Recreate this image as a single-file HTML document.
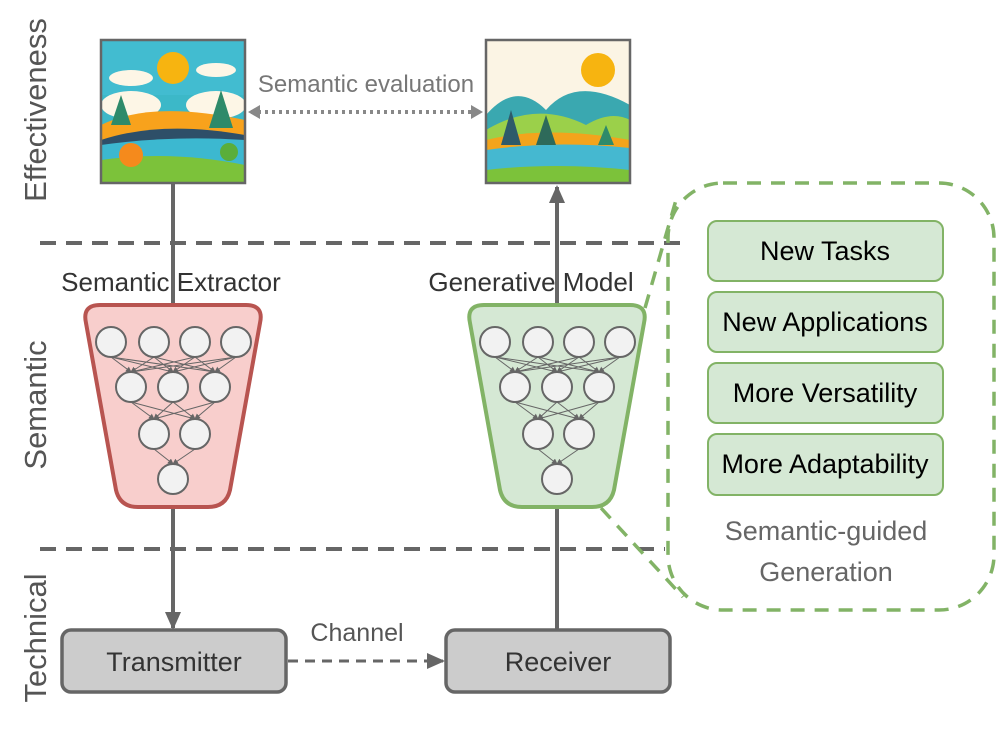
<!DOCTYPE html>
<html><head><meta charset="utf-8"><style>body{margin:0;background:#fff}svg{display:block}</style></head><body>
<svg width="997" height="751" viewBox="0 0 997 751" xmlns="http://www.w3.org/2000/svg" font-family="Liberation Sans, sans-serif">
<defs>
<marker id="ah2" markerWidth="20" markerHeight="20" refX="16" refY="8" orient="auto" markerUnits="userSpaceOnUse"><path d="M0,0 L18,8 L0,16 z" fill="#666"/></marker>
<marker id="as" markerWidth="6" markerHeight="6" refX="5" refY="3" orient="auto" markerUnits="userSpaceOnUse"><path d="M0,0 L6,3 L0,6 z" fill="#666"/></marker>
<g id="img1">
<rect x="0" y="0" width="144" height="143" fill="#3cb8c8"/>
<rect x="0" y="0" width="144" height="55" fill="#42bcd0"/>
<circle cx="72" cy="28" r="16" fill="#f7b410"/>
<ellipse cx="30" cy="38" rx="22" ry="8" fill="#fdf6e6"/>
<ellipse cx="115" cy="30" rx="20" ry="7" fill="#fdf6e6"/>
<ellipse cx="30" cy="65" rx="30" ry="14" fill="#fdf6e6"/>
<ellipse cx="115" cy="65" rx="30" ry="14" fill="#fdf6e6"/>
<path d="M0,85 Q50,60 144,80 L144,143 L0,143z" fill="#f8a21c"/>
<path d="M0,100 Q60,80 144,95 L144,143 L0,143z" fill="#2e4f68"/>
<path d="M0,105 Q70,95 144,100 L144,143 L0,143z" fill="#3cb8d0"/>
<path d="M0,120 Q70,110 144,125 L144,143 L0,143z" fill="#7cc23a"/>
<polygon points="20,55 30,85 10,85" fill="#2e8a6a"/><polygon points="120,50 132,88 108,88" fill="#2e8a6a"/>
<circle cx="30" cy="115" r="12" fill="#f58a1c"/><circle cx="128" cy="112" r="9" fill="#5aae3a"/>
</g>
<g id="img2">
<rect x="0" y="0" width="144" height="143" fill="#fbf4e4"/>
<circle cx="112" cy="30" r="17" fill="#f7b410"/>
<path d="M0,75 Q30,40 60,70 Q90,35 144,65 L144,143 L0,143z" fill="#3aa8b0"/>
<path d="M0,90 Q50,60 100,85 Q125,70 144,80 L144,143 L0,143z" fill="#9bd04a"/>
<path d="M0,100 Q60,85 144,100 L144,143 L0,143z" fill="#f3a41c"/>
<path d="M0,110 Q70,100 144,108 L144,143 L0,143z" fill="#45b8d0"/>
<path d="M0,130 Q70,122 144,130 L144,143 L0,143z" fill="#7cc23a"/>
<polygon points="25,70 35,105 15,105" fill="#2e5a6a"/><polygon points="60,75 70,105 50,105" fill="#2e6a5a"/><polygon points="120,85 128,105 112,105" fill="#2e8a6a"/>
</g>
<g id="net" stroke="#666" fill="#f2f2f2">
<g stroke-width="1" marker-end="url(#as)">
<line x1="111" y1="357" x2="131" y2="372"/><line x1="111" y1="357" x2="173" y2="372"/><line x1="111" y1="357" x2="215" y2="372"/>
<line x1="154" y1="357" x2="131" y2="372"/><line x1="154" y1="357" x2="173" y2="372"/><line x1="154" y1="357" x2="215" y2="372"/>
<line x1="195" y1="357" x2="131" y2="372"/><line x1="195" y1="357" x2="173" y2="372"/><line x1="195" y1="357" x2="215" y2="372"/>
<line x1="236" y1="357" x2="131" y2="372"/><line x1="236" y1="357" x2="173" y2="372"/><line x1="236" y1="357" x2="215" y2="372"/>
<line x1="131" y1="402" x2="154" y2="419"/><line x1="131" y1="402" x2="195" y2="419"/>
<line x1="173" y1="402" x2="154" y2="419"/><line x1="173" y1="402" x2="195" y2="419"/>
<line x1="215" y1="402" x2="154" y2="419"/><line x1="215" y1="402" x2="195" y2="419"/>
<line x1="154" y1="449" x2="173" y2="464"/><line x1="195" y1="449" x2="173" y2="464"/>
</g>
<g stroke-width="2">
<circle cx="111" cy="342" r="15"/><circle cx="154" cy="342" r="15"/><circle cx="195" cy="342" r="15"/><circle cx="236" cy="342" r="15"/>
<circle cx="131" cy="387" r="15"/><circle cx="173" cy="387" r="15"/><circle cx="215" cy="387" r="15"/>
<circle cx="154" cy="434" r="15"/><circle cx="195" cy="434" r="15"/>
<circle cx="173" cy="479" r="15"/>
</g>
</g>
</defs>

<g font-size="31" fill="#555" text-anchor="middle">
<text transform="translate(46,110) rotate(-90)">Effectiveness</text>
<text transform="translate(46,405) rotate(-90)">Semantic</text>
<text transform="translate(46,638) rotate(-90)">Technical</text>
</g>

<line x1="40" y1="243" x2="690" y2="243" stroke="#666" stroke-width="4" stroke-dasharray="16,10"/>
<line x1="40" y1="549" x2="665" y2="549" stroke="#666" stroke-width="4" stroke-dasharray="16,10"/>

<rect x="668" y="183" width="326" height="427" rx="55" fill="none" stroke="#82b366" stroke-width="3.5" stroke-dasharray="14,10"/>
<line x1="645" y1="308" x2="676" y2="200" stroke="#82b366" stroke-width="3.5" stroke-dasharray="14,10"/>
<line x1="601" y1="508" x2="683" y2="597" stroke="#82b366" stroke-width="3.5" stroke-dasharray="14,10"/>

<g transform="translate(101,40)"><use href="#img1"/><rect x="0" y="0" width="144" height="143" fill="none" stroke="#666" stroke-width="2.5"/></g>
<g transform="translate(486,40)"><use href="#img2"/><rect x="0" y="0" width="144" height="143" fill="none" stroke="#666" stroke-width="2.5"/></g>

<line x1="251" y1="112" x2="480" y2="112" stroke="#888" stroke-width="4" stroke-dasharray="3,4"/>
<path d="M248,112 l12,-7 v14z M483,112 l-12,-7 v14z" fill="#888"/>
<text x="366" y="92" font-size="24" fill="#777" text-anchor="middle">Semantic evaluation</text>

<line x1="173" y1="183" x2="173" y2="307" stroke="#666" stroke-width="4"/>
<line x1="173" y1="507" x2="173" y2="628" stroke="#666" stroke-width="4" marker-end="url(#ah2)"/>
<line x1="557" y1="630" x2="557" y2="505" stroke="#666" stroke-width="4"/>
<line x1="557" y1="305" x2="557" y2="187" stroke="#666" stroke-width="4" marker-end="url(#ah2)"/>

<text x="171" y="291" font-size="26" fill="#333" text-anchor="middle">Semantic Extractor</text>
<text x="531" y="291" font-size="26" fill="#333" text-anchor="middle">Generative Model</text>

<path d="M100,305 H246 Q264,305 260,323 L230,490 Q226,507 208,507 H138 Q120,507 116,490 L86,323 Q82,305 100,305z" fill="#f8cecc" stroke="#b85450" stroke-width="4"/>
<use href="#net"/>
<path d="M100,305 H246 Q264,305 260,323 L230,490 Q226,507 208,507 H138 Q120,507 116,490 L86,323 Q82,305 100,305z" transform="translate(384,0)" fill="#d5e8d4" stroke="#82b366" stroke-width="4"/>
<use href="#net" transform="translate(384,0)"/>

<g fill="#d5e8d4" stroke="#82b366" stroke-width="2">
<rect x="708" y="221" width="235" height="60" rx="9"/>
<rect x="708" y="292" width="235" height="60" rx="9"/>
<rect x="708" y="363" width="235" height="60" rx="9"/>
<rect x="708" y="434" width="235" height="61" rx="9"/>
</g>
<g font-size="27" fill="#000" text-anchor="middle">
<text x="825" y="260">New Tasks</text>
<text x="825" y="331">New Applications</text>
<text x="825" y="402">More Versatility</text>
<text x="825" y="473">More Adaptability</text>
</g>
<g font-size="27" fill="#666" text-anchor="middle">
<text x="826" y="540">Semantic-guided</text>
<text x="826" y="581">Generation</text>
</g>

<rect x="62" y="630" width="224" height="62" rx="9" fill="#cccccc" stroke="#666" stroke-width="3.5"/>
<rect x="446" y="630" width="224" height="62" rx="9" fill="#cccccc" stroke="#666" stroke-width="3.5"/>
<text x="174" y="671" font-size="27" fill="#333" text-anchor="middle">Transmitter</text>
<text x="558" y="671" font-size="27" fill="#333" text-anchor="middle">Receiver</text>
<line x1="288" y1="661" x2="443" y2="661" stroke="#666" stroke-width="3" stroke-dasharray="10,7" marker-end="url(#ah2)"/>
<text x="357" y="641" font-size="25" fill="#555" text-anchor="middle">Channel</text>
</svg>
</body></html>
